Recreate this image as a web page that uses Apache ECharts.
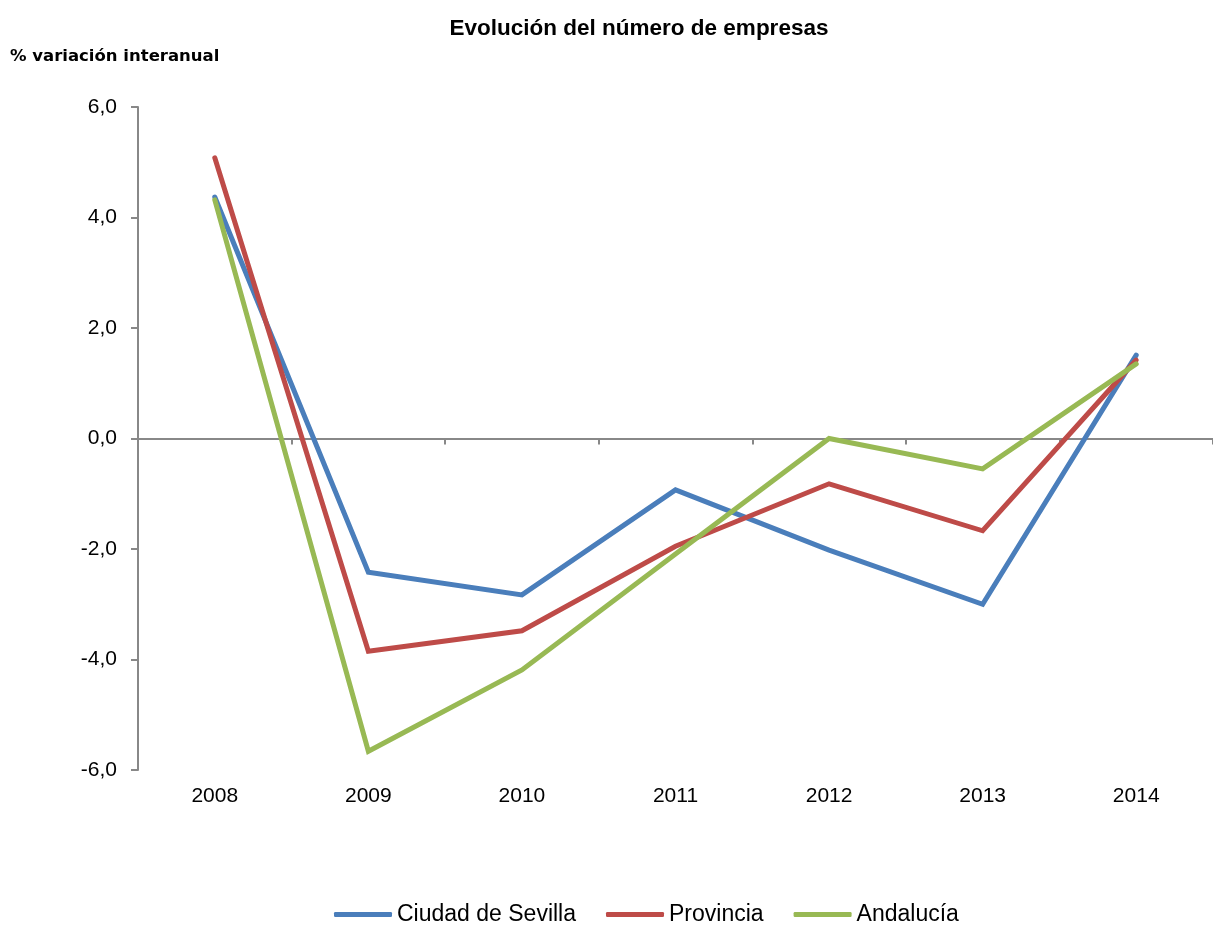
<!DOCTYPE html>
<html>
<head>
<meta charset="utf-8">
<script src="https://cdn.jsdelivr.net/npm/echarts@6/dist/echarts.min.js"></script>
<style>html,body{margin:0;padding:0;background:#fff}#c{width:1213px;height:925px}</style>
</head>
<body>
<div id="c"></div>
<script>
const categories = ['2008','2009','2010','2011','2012','2013','2014'];
const ciudad = [4.37, -2.42, -2.83, -0.93, -2.02, -3.0, 1.51];
const provincia = [5.08, -3.85, -3.48, -1.95, -0.82, -1.67, 1.42];
const andalucia = [4.32, -5.66, -4.19, -2.09, 0.0, -0.55, 1.35];
const seriesNames = ['Ciudad de Sevilla', 'Provincia', 'Andalucía'];
const colors = ['#4A7EBB', '#BE4B48', '#98B954'];

const chart = echarts.init(document.getElementById('c'));
const font = 'Liberation Sans, Arial, sans-serif';
chart.setOption({
  animation: false,
  textStyle: { fontFamily: font },
  title: {
    text: 'Evolución del número de empresas',
    left: 634, top: 12, textAlign: 'center',
    textStyle: { fontSize: 22.5, fontWeight: 'bold', color: '#000', fontFamily: font }
  },
  graphic: [{
    type: 'text', left: 10, top: 48,
    style: { text: '% variación interanual', font: 'bold 16.5px "DejaVu Sans", sans-serif', fill: '#000' }
  }],
  legend: {
    top: 898, left: 329,
    itemWidth: 58, itemHeight: 5, itemGap: 30,
    icon: 'roundRect',
    textStyle: { fontSize: 23, color: '#000', fontFamily: font },
    data: seriesNames
  },
  grid: { left: 138, right: 0, top: 107, bottom: 155 },
  xAxis: [{
    type: 'category', data: categories, boundaryGap: true,
    axisLine: { show: false, onZero: false }, axisTick: { show: false },
    axisLabel: { fontSize: 21, color: '#000', margin: 16 }
  }, {
    type: 'category', data: categories, boundaryGap: true, position: 'bottom',
    axisLine: { show: true, onZero: true, lineStyle: { color: '#888', width: 2 } },
    axisTick: { show: true, length: 6, lineStyle: { color: '#888', width: 2 } },
    axisLabel: { show: false }
  }],
  yAxis: {
    type: 'value', min: -6, max: 6, interval: 2,
    axisLine: { show: true, lineStyle: { color: '#888', width: 2 } },
    axisTick: { show: true, length: 7, lineStyle: { color: '#888', width: 2 } },
    splitLine: { show: false },
    axisLabel: { fontSize: 21, color: '#000', margin: 21,
      formatter: v => v.toFixed(1).replace('.', ',') }
  },
  series: [ciudad, provincia, andalucia].map((d, i) => ({
    name: seriesNames[i], type: 'line', data: d, xAxisIndex: 0,
    symbol: 'none', color: colors[i],
    lineStyle: { width: 5, color: colors[i], cap: 'round', join: 'miter' }
  }))
});
</script>
</body>
</html>
